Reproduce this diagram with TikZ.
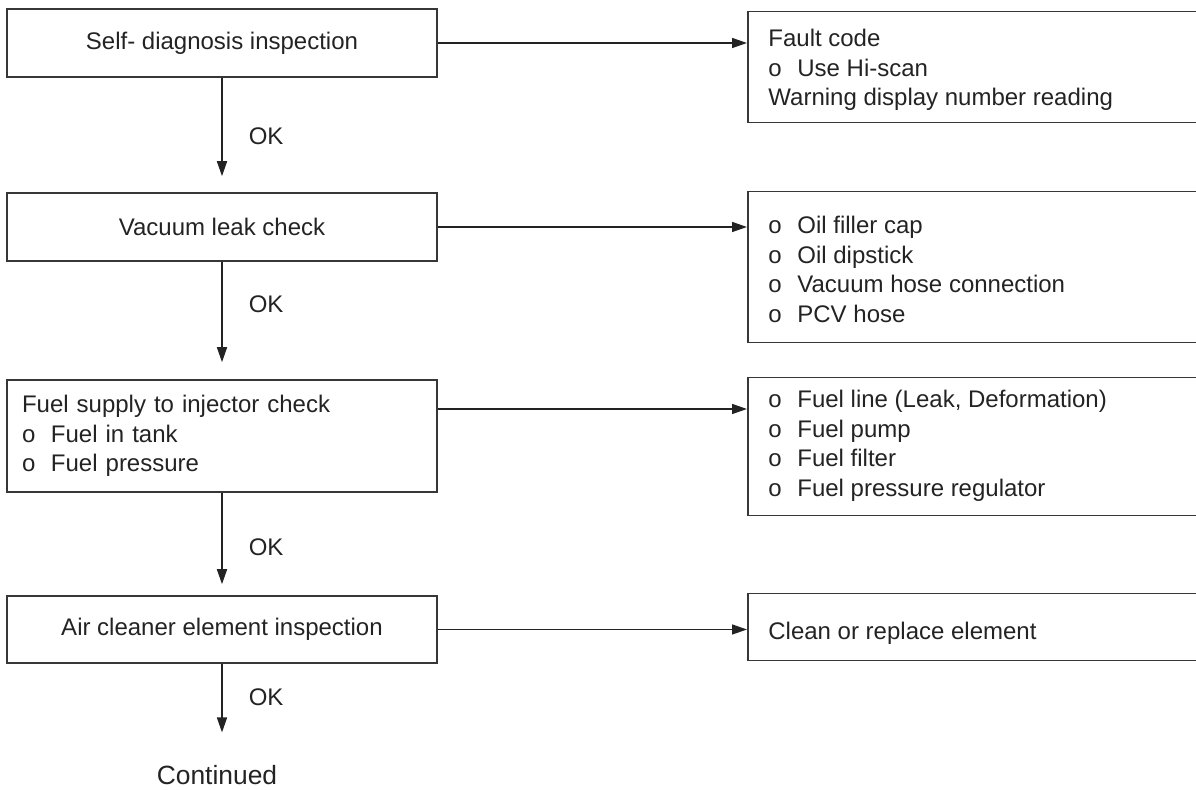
\documentclass[tikz,border=0pt]{standalone}
\usepackage{fontspec}
\setmainfont{Liberation Sans}
\usepackage{tikz}
\usetikzlibrary{arrows.meta, positioning, calc}
\definecolor{mydark}{RGB}{35,35,35}
\definecolor{myline}{RGB}{55,55,55}
\newcommand{\mainfnt}{\fontsize{12}{14.75}\selectfont}
\newcommand{\obul}{\makebox[14.5pt][l]{o}}
\tikzset{
  stepbox/.style={rectangle, draw=myline, line width=0.75pt, minimum width=215pt,
    inner sep=0pt, font=\mainfnt, text=mydark},
  resbox/.style={rectangle, draw=myline, line width=0.75pt, minimum width=240pt,
    inner sep=0pt, anchor=north west},
  arrow/.style={-{Triangle[length=7.5pt,width=5pt]}, line width=0.75pt, color=mydark}
}

\begin{document}
\begin{tikzpicture}[x=0.5pt, y=-0.5pt,
  lbl/.style={inner sep=0pt, font=\mainfnt, text=mydark}
]
\useasboundingbox (0,0) rectangle (1196,790);
\clip (0,0) rectangle (1196,790);
%--- inspection steps (left) ---
\node[stepbox, minimum height=34pt] (l1) at (222,43) {Self- diagnosis inspection};
\node[stepbox, minimum height=34pt] (l2) at (222,227) {Vacuum leak check};
\node[stepbox, minimum height=56pt, text width=200pt, align=left, inner xsep=7.5pt] (l3) at (222,436)
  {Fuel supply to injector check\\ \obul Fuel in tank\\ \obul Fuel pressure};
\node[stepbox, minimum height=33.5pt] (l4) at (222,629.5) {Air cleaner element inspection};
\node[lbl, anchor=base, font=\fontsize{13.2}{16}\selectfont] (cont) at (217,785) {Continued};

%--- remedies (right) ---
\node[resbox, minimum height=55.5pt] (r1) at (747,11) {};
\node[resbox, minimum height=75.5pt] (r2) at (747,191) {};
\node[resbox, minimum height=69pt] (r3) at (747,377) {};
\node[resbox, minimum height=33.5pt] (r4) at (747,593) {};
\node[lbl, align=left, below right=9pt and 10.5pt of r1.north west] (t1)
  {Fault code\\ \obul Use Hi-scan\\ Warning display number reading};
\node[lbl, align=left, below right=12.5pt and 10.5pt of r2.north west] (t2)
  {\obul Oil filler cap\\ \obul Oil dipstick\\ \obul Vacuum hose connection\\ \obul PCV hose};
\node[lbl, align=left, below right=6.5pt and 10.5pt of r3.north west] (t3)
  {\obul Fuel line (Leak, Deformation)\\ \obul Fuel pump\\ \obul Fuel filter\\ \obul Fuel pressure regulator};
\node[lbl, align=left, below right=14.5pt and 10.5pt of r4.north west] (t4) {Clean or replace element};

% NG arrows
\foreach \a/\b in {l1/r1, l2/r2, l4/r4} { \draw[arrow] (\a.east) -- (\a.east -| \b.west); }
\draw[arrow] ([yshift=13.5pt]l3.east) -- ([yshift=13.5pt]l3.east -| r3.west);

% OK arrows
\draw[arrow, shorten >=8pt] (l1) -- node[lbl, pos=.51, right=13pt] (ok1) {OK} (l2);
\draw[arrow, shorten >=8.5pt] (l2) -- node[lbl, pos=.36, right=13pt] (ok2) {OK} (l3);
\draw[arrow, shorten >=5.5pt] (l3) -- node[lbl, pos=.53, right=13pt] (ok3) {OK} (l4);
\draw[arrow, shorten >=16.5pt] (l4.south) -- node[lbl, pos=.33, right=13pt] (ok4) {OK} (l4.south |- cont.north);
\end{tikzpicture}
\end{document}
